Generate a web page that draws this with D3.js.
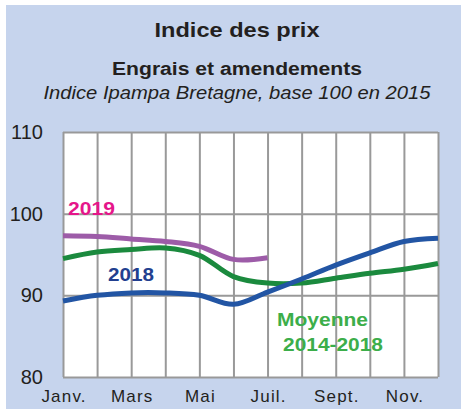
<!DOCTYPE html>
<html><head><meta charset="utf-8">
<script src="https://cdn.jsdelivr.net/npm/d3@7"></script>
<style>html,body{margin:0;padding:0;background:#fff;}svg{display:block;font-family:"Liberation Sans",Arial,sans-serif;}</style>
</head><body>
<script>
const months = ["Janv.","Févr.","Mars","Avr.","Mai","Juin","Juil.","Août","Sept.","Oct.","Nov.","Déc."];
const tickMonths = ["Janv.","Mars","Mai","Juil.","Sept.","Nov."];
const yTicks = [80, 90, 100, 110];
const values2019 = [97.3, 97.2, 96.9, 96.6, 96.0, 94.4, 94.6];
const values2018 = [89.3, 90.0, 90.3, 90.3, 90.0, 88.9, 90.4, 92.0, 93.7, 95.2, 96.6, 97.0];
const valuesMoy = [94.5, 95.3, 95.6, 95.8, 94.9, 92.3, 91.5, 91.5, 92.1, 92.7, 93.2, 93.9];

const W = 461, H = 409;
const svg = d3.select("body").append("svg").attr("width", W).attr("height", H);
svg.append("rect").attr("x", 6).attr("y", 5).attr("width", W - 6).attr("height", H - 5).attr("fill", "#c6d4ed");

const x = d3.scalePoint().domain(months).range([63, 438]);
const y = d3.scaleLinear().domain([80, 110]).range([377, 132]);

// titles
const title = (t, yy, size, weight, style, len) => svg.append("text").attr("x", 237).attr("y", yy)
  .attr("text-anchor", "middle").attr("font-size", size).attr("font-weight", weight)
  .attr("font-style", style).attr("fill", "#231f20")
  .attr("textLength", len).attr("lengthAdjust", "spacingAndGlyphs").text(t);
title("Indice des prix", 37, 20.5, "bold", "normal", 165);
title("Engrais et amendements", 75, 17.5, "bold", "normal", 250);
title("Indice Ipampa Bretagne, base 100 en 2015", 98.5, 17.5, "normal", "italic", 387);

// plot area
svg.append("rect").attr("x", 63).attr("y", 132).attr("width", 375).attr("height", 245).attr("fill", "#fff");

const g = svg.append("g");
const xGrid = d3.axisBottom(x).tickSize(-245).tickFormat("");
g.append("g").attr("transform", "translate(0,377)").call(xGrid)
  .call(s => s.select(".domain").remove())
  .call(s => s.selectAll("line").attr("stroke", "#999").attr("stroke-width", 2));
const yGrid = d3.axisLeft(y).tickValues(yTicks).tickSize(-375).tickFormat("");
g.append("g").attr("transform", "translate(63,0)").call(yGrid)
  .call(s => s.select(".domain").remove())
  .call(s => s.selectAll("line").attr("stroke", "#999").attr("stroke-width", 2));

// y labels
const yAxis = d3.axisLeft(y).tickValues(yTicks).tickSize(0).tickPadding(20);
g.append("g").attr("transform", "translate(63,0)").call(yAxis)
  .call(s => s.select(".domain").remove())
  .call(s => s.selectAll("text").attr("font-size", 20).attr("fill", "#231f20")
      .attr("font-family", "Liberation Sans, Arial, sans-serif"));

// x labels
const xAxis = d3.axisBottom(x).tickValues(tickMonths).tickSize(0).tickPadding(13);
g.append("g").attr("transform", "translate(0,377)").call(xAxis)
  .call(s => s.select(".domain").remove())
  .call(s => s.selectAll("text").attr("font-size", 17).attr("fill", "#231f20")
      .attr("letter-spacing", 1.2).attr("dx", 0.6)
      .attr("font-family", "Liberation Sans, Arial, sans-serif"));

const line = d3.line().x((d, i) => x(months[i])).y(d => y(d)).curve(d3.curveCatmullRom.alpha(0.5));
const series = [
  {v: valuesMoy, c: "#1b8a3e"},
  {v: values2018, c: "#2255a4"},
  {v: values2019, c: "#9d5ca8"}
];
series.forEach(s => {
  svg.append("path").datum(s.v).attr("d", line).attr("fill", "none")
    .attr("stroke", s.c).attr("stroke-width", 5).attr("stroke-linejoin", "round");
});

// labels
const lab = (t, xx, yy, c, len) => svg.append("text").attr("x", xx).attr("y", yy).attr("text-anchor", "middle")
  .attr("dominant-baseline", "central").attr("font-size", 19).attr("font-weight", "bold").attr("fill", c)
  .attr("textLength", len).attr("lengthAdjust", "spacingAndGlyphs").text(t);
lab("2019", 91.5, 208, "#e5168a", 47);
lab("2018", 131, 274, "#223f8f", 46);
lab("Moyenne", 322.5, 319, "#3cae4a", 91);
lab("2014-2018", 333, 344, "#3cae4a", 100);
</script>
</body></html>
